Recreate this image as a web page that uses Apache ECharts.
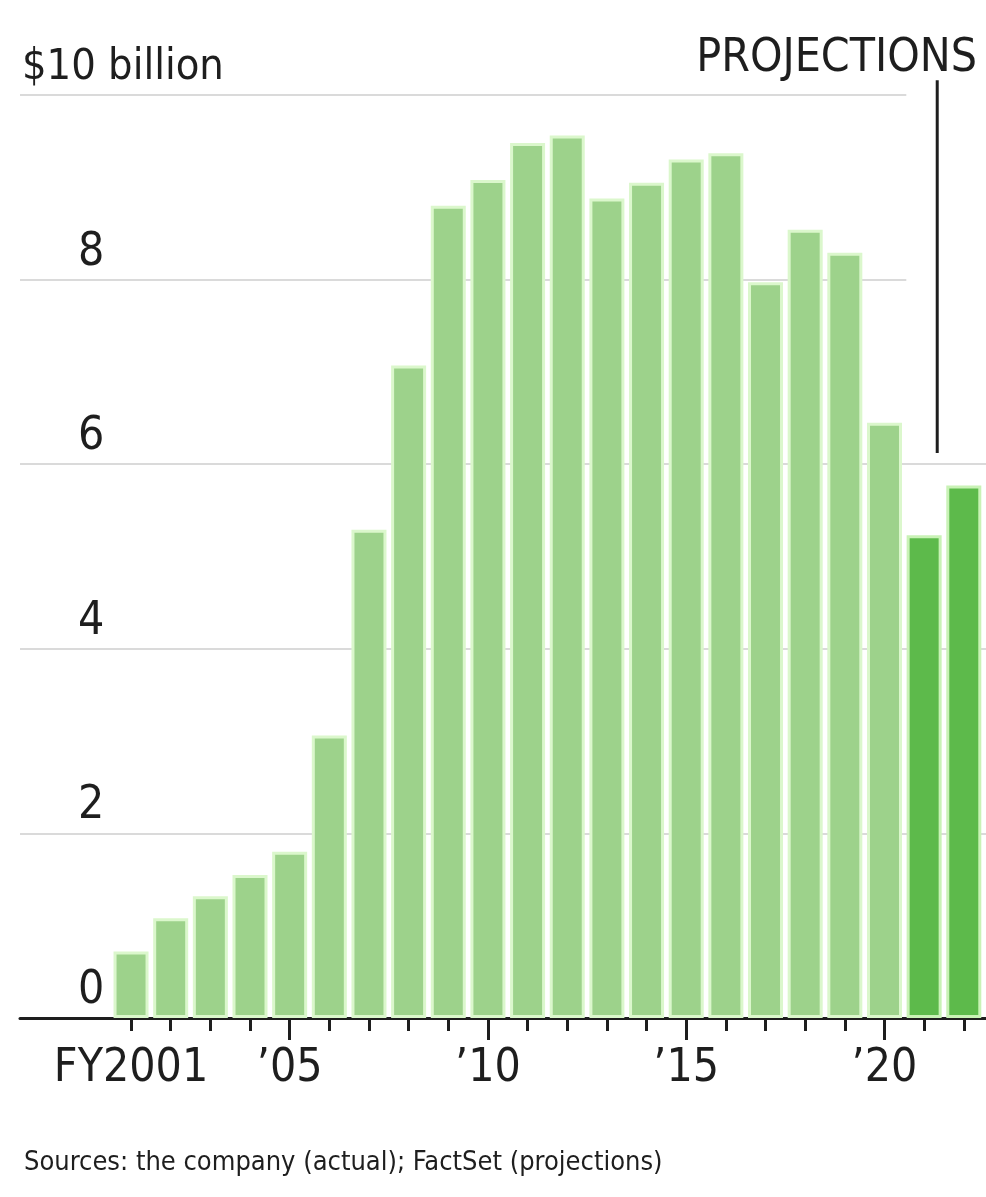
<!DOCTYPE html>
<html>
<head>
<meta charset="utf-8">
<script src="https://cdn.jsdelivr.net/npm/echarts@6/dist/echarts.min.js"></script>
<style>
  html, body { margin: 0; padding: 0; background: #ffffff; }
  #chart { width: 986px; height: 1197px; }
</style>
</head>
<body>
<div id="chart"></div>
<script>
// Annual figures, $ billions (fiscal years)
const actualYears = [2001, 2002, 2003, 2004, 2005, 2006, 2007, 2008, 2009, 2010,
                     2011, 2012, 2013, 2014, 2015, 2016, 2017, 2018, 2019, 2020];
const actualValues = [0.72, 1.08, 1.32, 1.55, 1.80, 3.06, 5.29, 7.07, 8.80, 9.08,
                      9.48, 9.56, 8.88, 9.05, 9.30, 9.37, 7.97, 8.54, 8.29, 6.45];
const projectionYears = [2021, 2022];
const projectionValues = [5.23, 5.77];

// Axis ticks and labels
const tickYears = actualYears.concat(projectionYears);
const labelYears = [2001, 2005, 2010, 2015, 2020];
const majorTickYears = [2005, 2010, 2015, 2020];
const yTicks = [0, 2, 4, 6, 8, 10];

const FONT = '"DejaVu Sans Condensed", "Liberation Sans Narrow", "Liberation Sans", sans-serif';
const INK = '#1e1e1e';

const chart = echarts.init(document.getElementById('chart'), null, { renderer: 'canvas' });

function yearLabel(v) {
  return v === 2001 ? 'FY2001' : '\u2019' + String(v).slice(2);
}

const xRange = { min: 1998.2, max: 2022.56 };

const option = {
  animation: false,
  backgroundColor: '#ffffff',
  title: [
    {
      text: 'PROJECTIONS',
      right: 4, top: 31,
      textStyle: { fontFamily: FONT, fontSize: 46, fontWeight: 'normal', color: INK }
    },
    {
      text: 'Sources: the company (actual); FactSet (projections)',
      left: 19, top: 1144,
      textStyle: { fontFamily: FONT, fontSize: 27, fontWeight: 'normal', color: INK }
    }
  ],
  grid: { left: 20, right: 0, top: 95, bottom: 179, containLabel: false, outerBoundsMode: 'none' },
  xAxis: [
    {
      type: 'value',
      min: xRange.min, max: xRange.max,
      position: 'bottom',
      splitLine: { show: false },
      axisLine: { show: true, onZero: false, lineStyle: { color: INK, width: 3 } },
      axisTick: { show: true, customValues: tickYears, length: 13, lineStyle: { color: INK, width: 3 } },
      axisLabel: {
        show: true, customValues: labelYears, margin: 28,
        formatter: yearLabel,
        fontFamily: FONT, fontSize: 46, color: INK, lineHeight: 46
      }
    },
    {
      type: 'value',
      min: xRange.min, max: xRange.max,
      position: 'bottom',
      splitLine: { show: false },
      axisLine: { show: false },
      axisTick: { show: true, customValues: majorTickYears, length: 22, lineStyle: { color: INK, width: 3 } },
      axisLabel: { show: false }
    }
  ],
  yAxis: {
    type: 'value',
    min: 0, max: 10, interval: 2,
    axisLine: { show: false },
    axisTick: { show: false },
    splitLine: { show: true, lineStyle: { color: '#dadada', width: 2 } },
    axisLabel: {
      inside: true, margin: 2,
      verticalAlign: 'bottom',
      color: INK,
      formatter: function (v) {
        return v === 10 ? '{top|$10 billion}' : '{n|' + v + '}';
      },
      rich: {
        top: { fontFamily: FONT, fontSize: 43, color: INK, lineHeight: 46, padding: [0, 0, 8, 0] },
        n: { fontFamily: FONT, fontSize: 46, color: INK, lineHeight: 46, padding: [0, 0, 8, 56] }
      }
    }
  },
  series: [
    {
      name: 'Actual',
      type: 'bar',
      xAxisIndex: 0,
      barWidth: 35,
      barGap: '-100%',
      z: 2,
      itemStyle: { color: '#9dd28b', borderColor: '#dbf7cc', borderWidth: 3 },
      data: actualYears.map((y, i) => [y, actualValues[i]])
    },
    {
      name: 'Projections',
      type: 'bar',
      xAxisIndex: 0,
      barWidth: 35,
      barGap: '-100%',
      z: 2,
      itemStyle: { color: '#5dba4b', borderColor: '#c9f2b6', borderWidth: 3 },
      data: projectionYears.map((y, i) => [y, projectionValues[i]])
    }
  ]
};

chart.setOption(option);

// Leader line from the PROJECTIONS heading down toward the projected bars,
// plus a white patch that keeps the upper gridlines clear of the heading area.
const leaderTop = chart.convertToPixel({ xAxisIndex: 0, yAxisIndex: 0 }, [2021.33, 10.16]);
const leaderBottom = chart.convertToPixel({ xAxisIndex: 0, yAxisIndex: 0 }, [2021.33, 6.12]);
const coverLeft = chart.convertToPixel({ xAxisIndex: 0, yAxisIndex: 0 }, [2020.55, 10.1]);
const coverBottom = chart.convertToPixel({ xAxisIndex: 0, yAxisIndex: 0 }, [2020.55, 7.75]);

chart.setOption({
  graphic: [
    {
      type: 'rect', z: 1, silent: true,
      shape: { x: coverLeft[0], y: coverLeft[1], width: 986 - coverLeft[0], height: coverBottom[1] - coverLeft[1] },
      style: { fill: '#ffffff' }
    },
    {
      type: 'line', z: 5, silent: true,
      shape: { x1: leaderTop[0], y1: leaderTop[1], x2: leaderBottom[0], y2: leaderBottom[1] },
      style: { stroke: INK, lineWidth: 3 }
    }
  ]
});
</script>
</body>
</html>
